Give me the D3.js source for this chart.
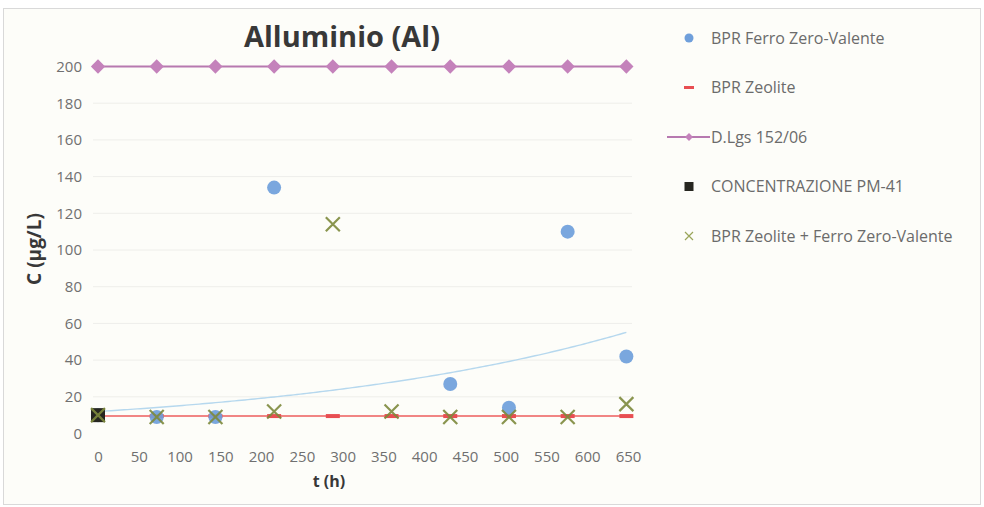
<!DOCTYPE html>
<html><head><meta charset="utf-8">
<script src="https://cdn.jsdelivr.net/npm/d3@7"></script>
<style>
body{margin:0;background:#fff;}
text{font-family:"Open Sans","Liberation Sans",sans-serif;}
</style></head>
<body><svg id="c" width="984" height="507"></svg>
<script>
// ---- data ----
const timesAll = [0, 72, 144, 216, 288, 360, 432, 504, 576, 648];
const ferroTimes = [0, 72, 144, 216, 432, 504, 576, 648];
const ferroValues = [10, 9, 9, 134, 27, 14, 110, 42];
const zeoliteValues = [9.5, 9.5, 9.5, 9.5, 9.5, 9.5, 9.5, 9.5, 9.5, 9.5];
const dlgsValues = [200, 200, 200, 200, 200, 200, 200, 200, 200, 200];
const pm41Times = [0];
const pm41Values = [10];
const mixValues = [10, 9, 9, 12, 114, 12, 9, 9, 9, 16];
const xTicks = [0, 50, 100, 150, 200, 250, 300, 350, 400, 450, 500, 550, 600, 650];
const yTicks = [0, 20, 40, 60, 80, 100, 120, 140, 160, 180, 200];
const legendLabels = ["BPR Ferro Zero-Valente", "BPR Zeolite", "D.Lgs 152/06", "CONCENTRAZIONE PM-41", "BPR Zeolite + Ferro Zero-Valente"];

const svg = d3.select("#c");
svg.append("rect").attr("x",3.5).attr("y",8.5).attr("width",977).attr("height",496)
  .attr("fill","#fdfdf9").attr("stroke","#d9d9d9");

const x = d3.scaleLinear().domain([0,650]).range([98,628]);
const y = d3.scaleLinear().domain([0,200]).range([433.5,66.5]);

// gridlines
svg.append("g").selectAll("line").data(yTicks.slice(1)).join("line")
  .attr("x1",93).attr("x2",632).attr("y1",d=>y(d)).attr("y2",d=>y(d))
  .attr("stroke","#eeeeea").attr("stroke-width",1);

// axes
const yAxis = svg.append("g").attr("transform","translate(84,0)")
  .call(d3.axisLeft(y).tickValues(yTicks).tickSize(0).tickPadding(2));
yAxis.select(".domain").remove();
yAxis.selectAll("text").attr("fill","#707070").attr("font-size",15).attr("font-family","Open Sans");
const xAxis = svg.append("g").attr("transform","translate(0,445)")
  .call(d3.axisBottom(x).tickValues(xTicks).tickSize(0).tickPadding(6));
xAxis.select(".domain").remove();
xAxis.selectAll("text").attr("fill","#707070").attr("font-size",15).attr("font-family","Open Sans");

// titles
svg.append("text").attr("x",342).attr("y",47).attr("text-anchor","middle")
  .attr("font-size",29).attr("font-weight","bold").attr("fill","#383838").text("Alluminio (Al)");
svg.append("text").attr("transform","translate(41,249) rotate(-90)").attr("text-anchor","middle")
  .attr("font-size",19).attr("font-weight","bold").attr("fill","#383838").text("C (µg/L)");
svg.append("text").attr("x",329).attr("y",487).attr("text-anchor","middle")
  .attr("font-size",16).attr("font-weight","bold").attr("fill","#383838").text("t (h)");

// exponential trendline fitted to the Ferro series
const n = ferroTimes.length;
const ly = ferroValues.map(v=>Math.log(v));
const mt = d3.mean(ferroTimes), ml = d3.mean(ly);
let sxy=0,sxx=0;
for(let i=0;i<n;i++){sxy+=(ferroTimes[i]-mt)*(ly[i]-ml);sxx+=(ferroTimes[i]-mt)**2;}
const b = sxy/sxx, a = Math.exp(ml-b*mt);
const tr = d3.range(0,649,4);
svg.append("path").datum(tr).attr("fill","none").attr("stroke","#b6d8ee").attr("stroke-width",1.4)
  .attr("d",d3.line().x(d=>x(d)).y(d=>y(a*Math.exp(b*d))));

// D.Lgs line + diamonds
const dl = timesAll.map((t,i)=>[t,dlgsValues[i]]);
svg.append("path").datum(dl).attr("fill","none").attr("stroke","#b779b0").attr("stroke-width",1.8)
  .attr("d",d3.line().x(d=>x(d[0])).y(d=>y(d[1])));
svg.append("g").selectAll("path").data(dl).join("path")
  .attr("transform",d=>`translate(${x(d[0])},${y(d[1])})`)
  .attr("d",d3.symbol(d3.symbolDiamond2,130)).attr("fill","#c482bb");

// zeolite red line + dashes
const ze = timesAll.map((t,i)=>[t,zeoliteValues[i]]);
svg.append("path").datum(ze).attr("fill","none").attr("stroke","#ec5c5c").attr("stroke-width",1.6)
  .attr("d",d3.line().x(d=>x(d[0])).y(d=>y(d[1])));
svg.append("g").selectAll("rect").data(ze).join("rect")
  .attr("x",d=>x(d[0])-7).attr("y",d=>y(d[1])-2).attr("width",14).attr("height",4)
  .attr("fill","#e84e52");

// Ferro blue circles
svg.append("g").selectAll("circle").data(ferroTimes.map((t,i)=>[t,ferroValues[i]])).join("circle")
  .attr("cx",d=>x(d[0])).attr("cy",d=>y(d[1])).attr("r",7).attr("fill","#6f9fdb").attr("opacity",0.92);

// PM-41 black square
svg.append("g").selectAll("rect").data(pm41Times.map((t,i)=>[t,pm41Values[i]])).join("rect")
  .attr("x",d=>x(d[0])-7).attr("y",d=>y(d[1])-7).attr("width",14).attr("height",14).attr("fill","#262620");

// Mix green X
const xs = 7;
svg.append("g").selectAll("path").data(timesAll.map((t,i)=>[t,mixValues[i]])).join("path")
  .attr("d",d=>{const cx=x(d[0]),cy=y(d[1]);return `M${cx-xs},${cy-xs}L${cx+xs},${cy+xs}M${cx-xs},${cy+xs}L${cx+xs},${cy-xs}`;})
  .attr("stroke","#7d8a3c").attr("stroke-width",2.2).attr("fill","none").attr("opacity",0.9);

// legend
const lg = svg.append("g");
const ly0 = 38, ldy = 49.5;
legendLabels.forEach((lab,i)=>{
  lg.append("text").attr("x",711).attr("y",ly0+i*ldy).attr("dy","0.35em")
    .attr("font-size",16).attr("fill","#6b6b6b").text(lab);
});
lg.append("circle").attr("cx",689).attr("cy",ly0).attr("r",4.5).attr("fill","#6f9fdb");
lg.append("rect").attr("x",684).attr("y",ly0+ldy-1.5).attr("width",10).attr("height",3).attr("fill","#e84e52");
lg.append("line").attr("x1",667).attr("x2",710).attr("y1",ly0+2*ldy).attr("y2",ly0+2*ldy).attr("stroke","#b779b0").attr("stroke-width",1.8);
lg.append("path").attr("transform",`translate(689,${ly0+2*ldy})`).attr("d",d3.symbol(d3.symbolDiamond2,40)).attr("fill","#c482bb");
lg.append("rect").attr("x",684.5).attr("y",ly0+3*ldy-4.5).attr("width",9).attr("height",9).attr("fill","#262620");
lg.append("path").attr("d",`M685,${ly0+4*ldy-4}L693,${ly0+4*ldy+4}M685,${ly0+4*ldy+4}L693,${ly0+4*ldy-4}`)
  .attr("stroke","#9aa55a").attr("stroke-width",1.2);
</script></body></html>
